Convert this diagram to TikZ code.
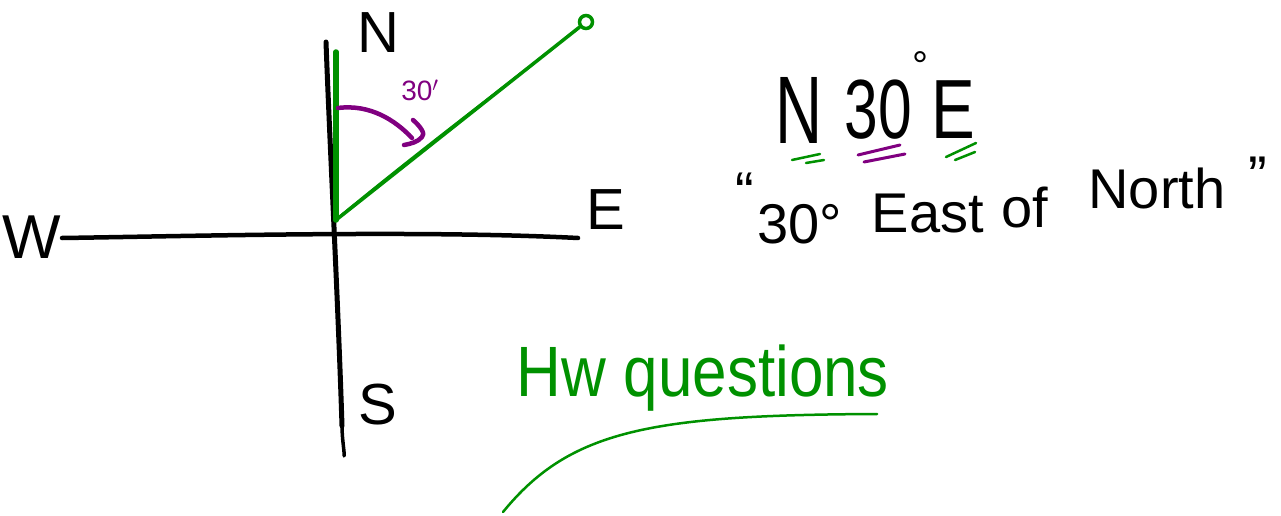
\documentclass[tikz,border=0pt]{standalone}
\usepackage{fontspec}
\setmainfont{Liberation Sans}
\definecolor{pen}{RGB}{0,145,0}
\definecolor{ink}{RGB}{128,0,128}
\tikzset{
  axis/.style={black, line width=4.5pt, line cap=round},
  gpen/.style={pen, line width=3.5pt, line cap=round},
  ppen/.style={ink, line width=4.5pt, line cap=round, line join=round},
  lbl/.style={inner sep=0pt, black},
  qword/.style={lbl, font=\fontsize{56}{56}\selectfont},
}
\begin{document}
\begin{tikzpicture}[x=1pt,y=-1pt]
\useasboundingbox (0,0) rectangle (1281,516);
% axes
\coordinate (wEnd) at (62,238);
\coordinate (eEnd) at (578,238);
\coordinate (nEnd) at (326,42);
\coordinate (sEnd) at (342,426);
\coordinate (origin) at (336,220);
\coordinate (arcA) at (338,108);
\coordinate (arcB) at (412,138);
\draw[axis] (wEnd) .. controls (200,236) and (420,230) .. (eEnd);
\draw[axis, line width=5pt] (nEnd) .. controls (330,150) and (338,300) .. (sEnd);
\draw[axis, line width=3.5pt] (sEnd) .. controls (342,440) and (345,455) .. (344,456);
% green bearing
\node[draw=pen, circle, line width=3.5pt, minimum size=13pt, inner sep=0pt] (tip) at (586,22) {};
\draw[gpen, line width=5.5pt] (336,52) -- (origin);
\draw[gpen] (origin) -- (tip);
\draw[gpen, line width=2pt] (340,216) .. controls (420,150) and (500,90) .. (tip);
% purple arc
\draw[ppen] (arcA) .. controls (370,104) and (395,120) .. (arcB);
\draw[ppen] (413,120) .. controls (420,126) and (426,134) .. (422,137) .. controls (418,142) and (410,144) .. (404,145);
\node[lbl, ink, font=\fontsize{28}{28}\selectfont] (ang) at (420,90) {30$'$};
% compass labels
\node[lbl, font=\fontsize{58}{58}\selectfont] (N) at (378,33) {N};
\node[lbl, font=\fontsize{58}{58}\selectfont] (E) at (606,210) {E};
\node[lbl, font=\fontsize{62}{62}\selectfont] (W) at (32,237) {W};
\node[lbl, font=\fontsize{58}{58}\selectfont] (S) at (378,405) {S};
% N 30 E
\node[lbl, xscale=0.68, font=\fontsize{96}{96}\selectfont] (bN) at (799,110) {N};
\node[lbl, xscale=0.72, font=\fontsize{84}{84}\selectfont] (b30) at (878,110) {30};
\node[lbl, font=\fontsize{40}{40}\selectfont] (bdeg) at (920,66) {\textdegree};
\node[lbl, xscale=0.78, font=\fontsize{84}{84}\selectfont] (bE) at (953,110) {E};
\draw[gpen, line width=2.5pt] (792,160) -- (820,154);
\draw[gpen, line width=2.5pt] (806,163) -- (824,160);
\draw[ppen, line width=3pt] (858,155) -- (900,145);
\draw[ppen, line width=3pt] (864,162) -- (905,154);
\draw[gpen, line width=2.5pt] (946,157) -- (976,143);
\draw[gpen, line width=2.5pt] (955,160) -- (975,152);
% quote
\node[qword] (lq) at (745,192) {“};
\node[qword] (q30) at (800,224) {30\textdegree};
\node[qword] (qEast) at (928,214) {East};
\node[qword] (qof) at (1025,208) {of};
\node[qword] (qNorth) at (1157,188) {North};
\node[qword] (rq) at (1258,176) {”};
% Hw questions
\node[lbl, pen, yscale=1.15, font=\fontsize{62}{62}\selectfont] (hw) at (703,378) {Hw questions};
\coordinate (ulA) at (503,512);
\coordinate (ulB) at (877,414);
\draw[gpen, line width=2.5pt] (ulA) .. controls (570,430) and (650,415) .. (ulB);
\end{tikzpicture}
\end{document}
